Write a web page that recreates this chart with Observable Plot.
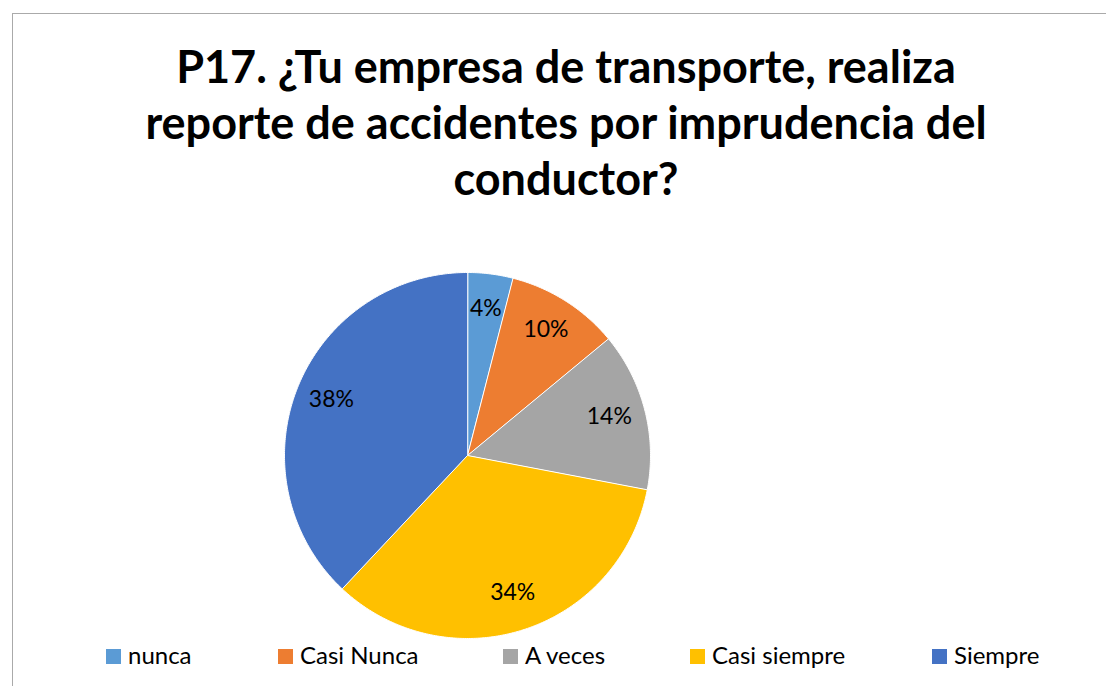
<!DOCTYPE html>
<html><head><meta charset="utf-8">
<script src="https://cdn.jsdelivr.net/npm/d3@7"></script>
<script src="https://cdn.jsdelivr.net/npm/@observablehq/plot@0.6"></script>
<style>
body{margin:0;width:1106px;height:686px;overflow:hidden;background:#fff;position:relative;font-family:Lato,sans-serif;}
#frame{position:absolute;left:12px;top:13px;width:1200px;height:800px;border:1px solid #aaa;}
#title{position:absolute;left:0;width:1132px;top:38px;text-align:center;font-weight:700;font-size:45px;line-height:56px;color:#000;}
#chart{position:absolute;left:0;top:250px;}
.leg{position:absolute;top:641px;font-size:24px;line-height:28px;color:#000;white-space:nowrap;}
.sw{position:absolute;top:649px;width:15px;height:15px;}
</style></head><body>
<div id="frame"></div>
<div id="title"></div>
<div id="chart"></div>
<script>
const titleLines = ["P17. ¿Tu empresa de transporte, realiza", "reporte de accidentes por imprudencia del", "conductor?"];
const categories = ["nunca", "Casi Nunca", "A veces", "Casi siempre", "Siempre"];
const values = [4, 10, 14, 34, 38];
const labels = ["4%", "10%", "14%", "34%", "38%"];
const colors = ["#5B9BD5", "#ED7D31", "#A5A5A5", "#FFC000", "#4472C4"];

document.getElementById("title").innerHTML = titleLines.join("<br>");

const arcs = d3.pie().sort(null).value(d => d)(values);
const pts = [];
const labelData = [];
arcs.forEach((a, i) => {
  const cat = categories[i];
  pts.push({cat, x: 0, y: 0});
  const n = Math.max(2, Math.ceil((a.endAngle - a.startAngle) / 0.01));
  for (let k = 0; k <= n; k++) {
    const t = a.startAngle + (a.endAngle - a.startAngle) * k / n;
    pts.push({cat, x: Math.sin(t), y: Math.cos(t)});
  }
  const m = (a.startAngle + a.endAngle) / 2;
  labelData.push({cat, label: labels[i], x: 0.8 * Math.sin(m), y: 0.8 * Math.cos(m)});
});

const chart = Plot.plot({
  width: 1106, height: 400, margin: 0,
  style: {fontFamily: "Lato, sans-serif", background: "transparent", overflow: "visible"},
  x: {domain: [-1, 1], range: [284, 650], axis: null},
  y: {domain: [-1, 1], range: [388, 22], axis: null},
  color: {domain: categories, range: colors},
  marks: [
    Plot.line(pts, {x: "x", y: "y", z: "cat", fill: "cat", stroke: "white", strokeWidth: 1, curve: "linear-closed"}),
    Plot.text(labelData, {x: "x", y: "y", text: "label", fontSize: 23, fill: "black", dy: -2})
  ]
});
document.getElementById("chart").appendChild(chart);

const swX = [106, 278, 503, 690, 932];
const txX = [128, 300, 525, 712, 954];
categories.forEach((c, i) => {
  const s = document.createElement("div");
  s.className = "sw"; s.style.left = swX[i] + "px"; s.style.background = colors[i];
  document.body.appendChild(s);
  const t = document.createElement("div");
  t.className = "leg"; t.style.left = txX[i] + "px"; t.textContent = c;
  document.body.appendChild(t);
});
</script>
</body></html>
